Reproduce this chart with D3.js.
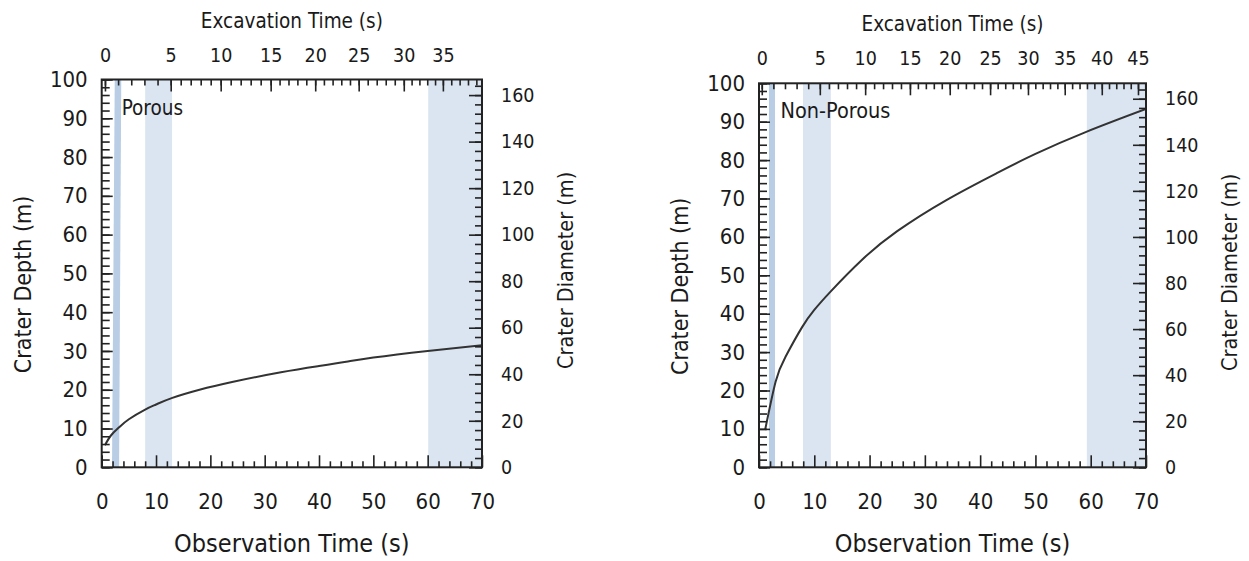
<!DOCTYPE html>
<html>
<head>
<meta charset="utf-8">
<script src="https://cdn.jsdelivr.net/npm/d3@7"></script>
<style>
  body { margin: 0; background: #fff; }
  svg text { font-family: "DejaVu Sans Condensed", "DejaVu Sans", sans-serif; fill: #1a1a1a; }
</style>
</head>
<body>
<svg id="chart" width="1249" height="561"></svg>
<script>
// tick labels
const obsTicks = [0, 10, 20, 30, 40, 50, 60, 70];
const obsMinor = [2, 4, 6, 8, 12, 14, 16, 18, 22, 24, 26, 28, 32, 34, 36, 38, 42, 44, 46, 48, 52, 54, 56, 58, 62, 64, 66, 68];
const depthTicks = [0, 10, 20, 30, 40, 50, 60, 70, 80, 90, 100];
const diamTicks = [0, 20, 40, 60, 80, 100, 120, 140, 160];

// excavation time -> observation time
const porousExc = [0, 5, 10, 15, 20, 25, 30, 35, 40];
const porousExcObs = [0.6, 12.7, 21.9, 31.1, 39.3, 47.3, 55.6, 62.8, 70.5];
const porousExcTicks = [0, 5, 10, 15, 20, 25, 30, 35];
const nonPorousExc = [0, 5, 10, 15, 20, 25, 30, 35, 40, 45, 50];
const nonPorousExcObs = [0.5, 11.0, 19.2, 27.3, 34.5, 41.8, 48.65, 55.3, 62.0, 68.55, 75.1];
const nonPorousExcTicks = [0, 5, 10, 15, 20, 25, 30, 35, 40, 45];

// crater depth curves
const porousObs = [0.6, 1.7, 3.2, 5, 8, 10, 13, 18, 24, 33, 40, 45, 50, 60, 70];
const porousDepth = [5.7, 8.2, 10.3, 12.4, 14.9, 16.2, 17.9, 20.0, 22.0, 24.5, 26.1, 27.2, 28.3, 30.0, 31.5];
const nonPorousObs = [1.1, 3, 4.8, 7.8, 10, 12.9, 18.6, 25, 33.9, 43, 50, 59.3, 70];
const nonPorousDepth = [9.7, 22.3, 28.8, 36.5, 41.0, 45.7, 54, 61.5, 69.6, 76.6, 81.6, 87.4, 93.3];

// shaded windows (observation time)
const porousDark = { bottom: [1.9, 3.2], top: [2.4, 3.6] };
const porousBands = [[8, 12.95], [60.1, 70]];
const nonPorousDark = { bottom: [1.8, 2.9], top: [1.8, 2.9] };
const nonPorousBands = [[7.96, 13], [59.3, 70]];

const svg = d3.select('#chart');

function panel(opts){
    let g = svg.append('g');
    let x = d3.scaleLinear().domain([0, 70]).range([opts.x0, opts.x1]);
    let y = d3.scaleLinear().domain([0, 100]).range([opts.y1, opts.y0]);
    let yR = d3.scaleLinear().domain([0, 166.7]).range([opts.y1, opts.y0]);
    let exc = d3.scaleLinear().domain(opts.exc).range(opts.excObs);

    let clipId = 'clip' + opts.id;
    svg.append('clipPath').attr('id', clipId)
        .append('rect')
        .attr('x', opts.x0).attr('y', opts.y0)
        .attr('width', opts.x1 - opts.x0).attr('height', opts.y1 - opts.y0);

    let plot = g.append('g').attr('clip-path', 'url(#' + clipId + ')');

    plot.selectAll('rect.band')
        .data(opts.bands)
        .enter().append('rect')
        .attr('class', 'band')
        .attr('x', d => x(d[0]))
        .attr('width', d => x(d[1]) - x(d[0]))
        .attr('y', opts.y0)
        .attr('height', opts.y1 - opts.y0)
        .style('fill', '#dbe5f2');

    let dk = opts.dark;
    plot.append('path')
        .attr('d', 'M' + x(dk.bottom[0]) + ',' + y(0) +
                   'L' + x(dk.top[0]) + ',' + y(100) +
                   'L' + x(dk.top[1]) + ',' + y(100) +
                   'L' + x(dk.bottom[1]) + ',' + y(0) + 'Z')
        .style('fill', '#b9cde5');

    let line = d3.line()
        .x(d => x(d[0]))
        .y(d => y(d[1]))
        .curve(d3.curveNatural);

    plot.append('path')
        .datum(d3.zip(opts.obs, opts.depth))
        .attr('d', line)
        .style('fill', 'none')
        .style('stroke', '#333')
        .style('stroke-width', 2);

    // axes, ticks pointing inward
    let bottomMajor = d3.axisBottom(x).tickValues(obsTicks).tickSizeInner(-12).tickSizeOuter(0).tickPadding(26);
    let bottomMinor = d3.axisBottom(x).tickValues(obsMinor).tickSizeInner(-6).tickSizeOuter(0).tickFormat('');
    let leftMajor = d3.axisLeft(y).tickValues(depthTicks).tickSizeInner(-11).tickSizeOuter(0).tickPadding(14);
    let leftMinor = d3.axisLeft(y).tickValues(d3.range(0, 101, 2)).tickSizeInner(-8).tickSizeOuter(0).tickFormat('');
    let rightMajor = d3.axisRight(yR).tickValues(diamTicks).tickSizeInner(-13).tickSizeOuter(0).tickPadding(19);
    let rightMinor = d3.axisRight(yR).tickValues(d3.range(0, 166, 4)).tickSizeInner(-7).tickSizeOuter(0).tickFormat('');

    let excMinorVals = d3.range(0, opts.exc[opts.exc.length - 1] + 1, 1)
        .filter(t => exc(t) <= 70.2);
    let topScale = t => x(exc(t));
    let topLin = d3.scaleLinear().domain([opts.x0, opts.x1]).range([opts.x0, opts.x1]);
    let topMajor = d3.axisTop(topLin).tickValues(opts.excTicks.map(topScale))
        .tickFormat((d, i) => opts.excTicks[i]).tickSizeInner(-12).tickSizeOuter(0).tickPadding(18);
    let topMinor = d3.axisTop(topLin).tickValues(excMinorVals.map(topScale))
        .tickFormat('').tickSizeInner(-6).tickSizeOuter(0);

    let axes = [
        [bottomMinor, 'translate(0,' + opts.y1 + ')', 22],
        [bottomMajor, 'translate(0,' + opts.y1 + ')', 22],
        [leftMinor, 'translate(' + opts.x0 + ',0)', 22],
        [leftMajor, 'translate(' + opts.x0 + ',0)', 22],
        [rightMinor, 'translate(' + opts.x1 + ',0)', 19.5],
        [rightMajor, 'translate(' + opts.x1 + ',0)', 19.5],
        [topMinor, 'translate(0,' + opts.y0 + ')', 19.5],
        [topMajor, 'translate(0,' + opts.y0 + ')', 19.5]
    ];
    axes.forEach(a => {
        let ag = g.append('g').attr('transform', a[1]).call(a[0]);
        ag.select('.domain').remove();
        ag.selectAll('line').style('stroke', '#222').style('stroke-width', 1.6);
        ag.selectAll('text').style('font-size', a[2] + 'px').style('font-family', null).style('fill', '#1a1a1a');
        ag.attr('font-family', null).attr('font-size', null);
    });

    g.append('rect')
        .attr('x', opts.x0).attr('y', opts.y0)
        .attr('width', opts.x1 - opts.x0).attr('height', opts.y1 - opts.y0)
        .style('fill', 'none').style('stroke', '#222').style('stroke-width', 2);

    let cx = (opts.x0 + opts.x1) / 2;
    let cy = (opts.y0 + opts.y1) / 2;

    g.append('text').attr('x', cx).attr('y', opts.y0 - 52)
        .attr('text-anchor', 'middle').style('font-size', '20.5px')
        .text('Excavation Time (s)');
    g.append('text').attr('x', cx).attr('y', 552)
        .attr('text-anchor', 'middle').style('font-size', '25px')
        .text('Observation Time (s)');
    g.append('text')
        .attr('transform', 'translate(' + (opts.x0 - 71) + ',' + (cy + 11) + ') rotate(-90)')
        .attr('text-anchor', 'middle').style('font-size', '23px')
        .text('Crater Depth (m)');
    g.append('text')
        .attr('transform', 'translate(' + (opts.x1 + 91) + ',' + (cy - 3) + ') rotate(-90)')
        .attr('text-anchor', 'middle').style('font-size', '21.5px')
        .text('Crater Diameter (m)');
    g.append('text')
        .attr('x', opts.x0 + opts.labelDx).attr('y', opts.y0 + 35)
        .style('font-size', opts.labelSize + 'px')
        .text(opts.label);
}

panel({
    id: 'porous', label: 'Porous', labelDx: 20, labelSize: 20.5,
    x0: 101.7, x1: 482, y0: 79.5, y1: 467.3,
    exc: porousExc, excObs: porousExcObs, excTicks: porousExcTicks,
    obs: porousObs, depth: porousDepth,
    dark: porousDark, bands: porousBands
});

panel({
    id: 'nonporous', label: 'Non-Porous', labelDx: 21.5, labelSize: 21.5,
    x0: 759, x1: 1146, y0: 83.3, y1: 467.3,
    exc: nonPorousExc, excObs: nonPorousExcObs, excTicks: nonPorousExcTicks,
    obs: nonPorousObs, depth: nonPorousDepth,
    dark: nonPorousDark, bands: nonPorousBands
});
</script>
</body>
</html>
